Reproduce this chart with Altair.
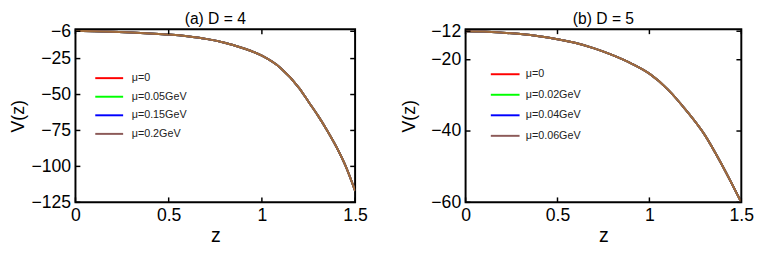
import altair as alt
import pandas as pd

# ---- data ----
z_a = [0, 0.1, 0.2, 0.3, 0.4, 0.5, 0.6, 0.7, 0.8, 0.9, 1.0, 1.1, 1.2, 1.25, 1.3, 1.35, 1.4, 1.45, 1.5]
v_a = [-5.8, -6.0, -6.3, -6.8, -7.5, -8.3, -9.5, -11.3, -14.0, -17.8, -23.0, -31.5, -45.5, -55.0,
       -64.5, -75.0, -86.5, -100.0, -117.0]
z_b = [0, 0.1, 0.2, 0.3, 0.4, 0.5, 0.6, 0.7, 0.8, 0.9, 1.0, 1.1, 1.2, 1.3, 1.4, 1.5]
v_b = [-12.0, -12.1, -12.4, -12.8, -13.4, -14.25, -15.3, -16.8, -18.7, -21.0, -23.9, -28.3,
       -34.2, -41.0, -50.0, -60.0]
labels_a = ["μ=0", "μ=0.05GeV", "μ=0.15GeV", "μ=0.2GeV"]
labels_b = ["μ=0", "μ=0.02GeV", "μ=0.04GeV", "μ=0.06GeV"]
titles = ["(a) D = 4", "(b) D = 5"]
x_ticks = [0, 0.5, 1, 1.5]
y_ticks_a = [-6, -25, -50, -75, -100, -125]
y_ticks_b = [-12, -20, -40, -60]
y_dom_a = [-125, -4.6]
y_dom_b = [-60, -11.45]

legend_colors = ["#ff0000", "#00ff00", "#0000ff", "#8c5a58"]
curve_color = "#a06c3c"
FONT = "Liberation Sans"


def panel(title, z, v, labels, yticks, ydom, w, h, lx, ly, lsize, lpath, loff, lrow, ytp):
    df = pd.DataFrame([
        {"z": zi, "V": vi, "mu": lab}
        for lab in labels for zi, vi in zip(z, v)
    ])
    xs = alt.Scale(domain=[0, 1.5], nice=False, zero=False)
    ys = alt.Scale(domain=ydom, nice=False, zero=False)
    xaxis = alt.Axis(values=x_ticks, format="~g", title="z", tickSize=0, domain=False, grid=False,
                     labelPadding=5, titlePadding=1, labelFontSize=18, titleFontSize=20,
                     labelFont=FONT, titleFont=FONT, titleFontWeight="normal",
                     labelColor="black", titleColor="black", labelOverlap=False, labelFlush=False)
    yaxis = alt.Axis(values=yticks, format="d", title="V(z)", tickSize=0, domain=False, grid=False,
                     labelPadding=5, titlePadding=ytp, labelFontSize=18, titleFontSize=18,
                     labelFont=FONT, titleFont=FONT, titleFontWeight="normal",
                     labelColor="black", titleColor="black", labelOverlap=False, labelFlush=False)
    X = alt.X("z:Q", scale=xs, axis=xaxis)
    Y = alt.Y("V:Q", scale=ys, axis=yaxis)
    lines = alt.Chart(df).mark_line(strokeWidth=2, interpolate="monotone", clip=True).encode(
        x=X, y=Y,
        color=alt.Color("mu:N", scale=alt.Scale(domain=labels, range=legend_colors),
                        legend=alt.Legend(orient="none", legendX=lx, legendY=ly, title=None,
                                          symbolType=lpath, symbolSize=lsize, symbolStrokeWidth=2,
                                          labelFontSize=11, labelFont=FONT, labelColor="#222",
                                          labelOffset=loff, rowPadding=lrow, padding=0)),
    )
    overlay = alt.Chart(df[df["mu"] == labels[-1]]).mark_line(
        strokeWidth=2, interpolate="monotone", clip=True, color=curve_color
    ).encode(x=X, y=Y)
    xt = pd.DataFrame({"z": x_ticks})
    yt = pd.DataFrame({"V": yticks})
    tk = dict(color="black", strokeWidth=1.5)
    t_left = alt.Chart(yt).mark_rule(**tk).encode(y=Y, x=alt.value(0), x2=alt.value(5))
    t_right = alt.Chart(yt).mark_rule(**tk).encode(y=Y, x=alt.value(w - 5), x2=alt.value(w))
    t_bot = alt.Chart(xt).mark_rule(**tk).encode(x=X, y=alt.value(h - 5), y2=alt.value(h))
    t_top = alt.Chart(xt).mark_rule(**tk).encode(x=X, y=alt.value(0), y2=alt.value(5))
    return alt.layer(lines, overlay, t_left, t_right, t_bot, t_top).properties(
        width=w, height=h,
        title=alt.TitleParams(title, fontSize=16, font=FONT, fontWeight="normal", offset=-5,
                              anchor="middle", color="black", frame="group"),
    )


left = panel(titles[0], z_a, v_a, labels_a, y_ticks_a, y_dom_a, 286, 177,
             24, 39.5, 361, "M-1.5,0L1.5,0", 12.5, 3, 4)
right = panel(titles[1], z_b, v_b, labels_b, y_ticks_b, y_dom_b, 282, 177,
              29, 34.5, 441, "M-1.4,0L1.4,0", 9.5, 4, 13)

chart = alt.hconcat(left, right, spacing=31).resolve_scale(color="independent").configure_view(
    stroke="black", strokeWidth=2
).properties(padding=0)

chart.save("out.html", embed_options={"renderer": "svg", "actions": False})
